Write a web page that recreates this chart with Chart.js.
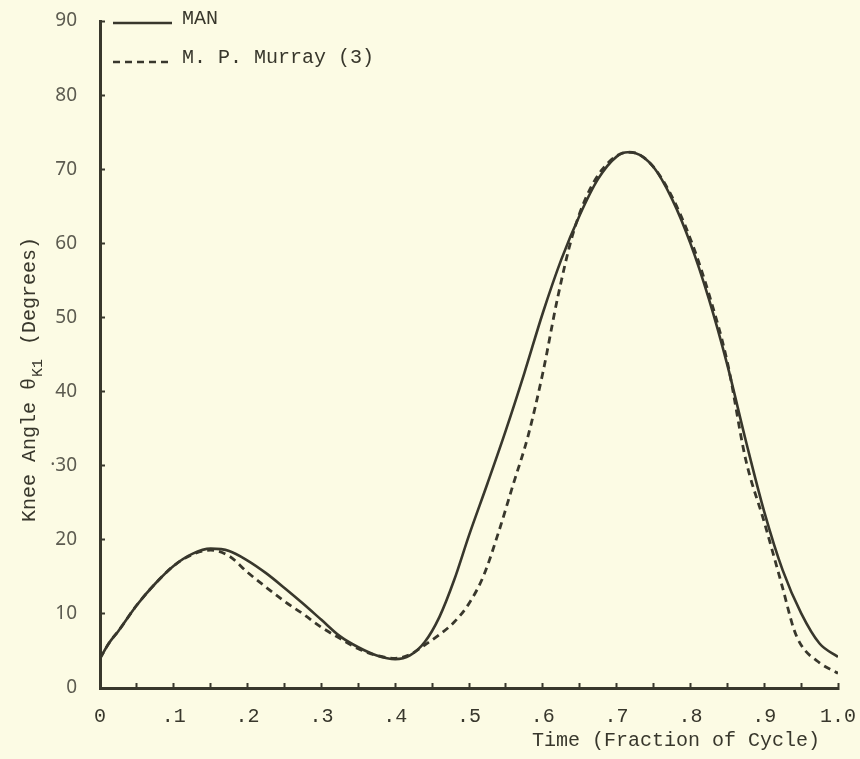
<!DOCTYPE html>
<html>
<head>
<meta charset="utf-8">
<script src="https://cdn.jsdelivr.net/npm/chart.js@4.4.1/dist/chart.umd.min.js"></script>
<style>
    html, body { margin: 0; padding: 0; background: #fcfbe4; }
    #contenedor { width: 860px; height: 759px; position: relative; }
</style>
</head>
<body>
<div id="contenedor"><canvas id="graficoRodilla"></canvas></div>
<script>
/**
 * Ángulo de rodilla durante el ciclo de marcha
 */

// Datos
const tiempos = [0, 0.0125, 0.025, 0.05, 0.075, 0.1, 0.125, 0.15, 0.175, 0.2,
    0.225, 0.25, 0.275, 0.3, 0.325, 0.35, 0.375, 0.4, 0.42, 0.44,
    0.46, 0.48, 0.5, 0.525, 0.55, 0.575, 0.6, 0.625, 0.65, 0.675,
    0.7, 0.715, 0.725, 0.75, 0.775, 0.8, 0.825, 0.85, 0.875, 0.9,
    0.925, 0.95, 0.975, 1.0];
const anguloMan = [4.0, 6.1, 7.7, 11.2, 14.1, 16.5, 18.1, 18.8, 18.5, 17.2,
    15.5, 13.5, 11.4, 9.2, 7.0, 5.5, 4.4, 3.9, 4.4, 6.2,
    9.6, 14.6, 20.6, 27.6, 34.8, 42.5, 50.6, 57.8, 63.8, 68.7,
    71.7, 72.3, 72.2, 70.3, 66.0, 60.0, 52.5, 43.6, 33.4, 23.8,
    15.9, 10.1, 6.0, 4.2];

const tiemposMurray = [0, 0.0125, 0.025, 0.05, 0.075, 0.1, 0.125, 0.15, 0.175, 0.2,
    0.225, 0.25, 0.275, 0.3, 0.325, 0.35, 0.375, 0.4, 0.42, 0.44,
    0.46, 0.48, 0.5, 0.52, 0.54, 0.56, 0.58, 0.6, 0.62, 0.64,
    0.66, 0.68, 0.7, 0.715, 0.725, 0.75, 0.775, 0.8, 0.825, 0.85,
    0.875, 0.9, 0.925, 0.94, 0.95, 0.975, 1.0];
const anguloMurray = [4.0, 6.1, 7.7, 11.2, 14.1, 16.5, 18.0, 18.6, 17.8, 15.6,
    13.6, 11.7, 10.0, 8.2, 6.7, 5.3, 4.4, 4.0, 4.5, 5.8,
    7.2, 8.9, 11.4, 15.2, 21.0, 27.5, 34.0, 42.5, 52.6, 61.0,
    66.5, 69.9, 71.8, 72.3, 72.2, 70.3, 66.3, 60.6, 53.2, 44.0,
    30.8, 22.4, 13.5, 8.0, 5.8, 3.4, 2.0];

const xTickLabels = ['0', '.1', '.2', '.3', '.4', '.5', '.6', '.7', '.8', '.9', '1.0'];
const yTickLabels = ['0', '10', '20', '·30', '40', '50', '60', '70', '80', '90'];

const COLORES = {
    tinta: '#38372c',
    gris: '#5c5b50',
    fondo: '#fcfbe4'
};

const FUENTE_MAQUINA = '"Liberation Mono", "DejaVu Sans Mono", monospace';

function aPuntos(xs, ys) {
    return xs.map(function(x, i) { return { x: x, y: ys[i] }; });
}

// Leyenda dibujada a mano dentro del área, arriba a la izquierda
const leyendaPlugin = {
    id: 'leyendaManual',
    afterDraw(chart) {
        const ctx = chart.ctx;
        const area = chart.chartArea;
        ctx.save();
        chart.data.datasets.forEach(function(ds, i) {
            const y = area.top + 2 + i * 39;
            ctx.strokeStyle = ds.borderColor;
            ctx.lineWidth = 2.5;
            ctx.setLineDash(ds.borderDash || []);
            ctx.beginPath();
            ctx.moveTo(area.left + 13, y);
            ctx.lineTo(area.left + 72, y);
            ctx.stroke();
            ctx.setLineDash([]);
            ctx.fillStyle = COLORES.tinta;
            ctx.font = '20px ' + FUENTE_MAQUINA;
            ctx.textBaseline = 'middle';
            ctx.textAlign = 'left';
            ctx.fillText(ds.label, area.left + 82, y - 4);
        });
        ctx.restore();
    }
};

// Títulos de los ejes (el de Y lleva subíndice K1)
const titulosPlugin = {
    id: 'titulosEjes',
    afterDraw(chart) {
        const ctx = chart.ctx;
        const area = chart.chartArea;
        ctx.save();
        ctx.fillStyle = COLORES.tinta;
        ctx.textBaseline = 'middle';
        ctx.font = '20px ' + FUENTE_MAQUINA;

        // eje X
        ctx.textAlign = 'right';
        ctx.fillText('Time (Fraction of Cycle)', area.right - 18, 741);

        // eje Y
        ctx.translate(30, 522);
        ctx.rotate(-Math.PI / 2);
        ctx.textAlign = 'left';
        const parte1 = 'Knee Angle θ';
        ctx.fillText(parte1, 0, 0);
        let x = ctx.measureText(parte1).width + 1;
        ctx.font = '15px ' + FUENTE_MAQUINA;
        ctx.fillText('K1', x, 8);
        x += ctx.measureText('K1').width + 14;
        ctx.font = '20px ' + FUENTE_MAQUINA;
        ctx.fillText('(Degrees)', x, 0);
        ctx.restore();
    }
};

function initGraficoRodilla(canvasId) {
    const ctx = document.getElementById(canvasId);
    if (!ctx) return;

    new Chart(ctx, {
        type: 'line',
        data: {
            datasets: [{
                label: 'MAN',
                data: aPuntos(tiempos, anguloMan),
                borderColor: COLORES.tinta,
                borderWidth: 2.6,
                pointRadius: 0,
                fill: false,
                cubicInterpolationMode: 'monotone'
            }, {
                label: 'M. P. Murray (3)',
                data: aPuntos(tiemposMurray, anguloMurray),
                borderColor: COLORES.tinta,
                borderWidth: 2.8,
                borderDash: [7, 5],
                pointRadius: 0,
                fill: false,
                cubicInterpolationMode: 'monotone'
            }]
        },
        options: {
            responsive: true,
            maintainAspectRatio: false,
            animation: false,
            layout: { padding: { top: 21, right: 22, left: 0, bottom: 0 } },
            plugins: {
                legend: { display: false },
                tooltip: { enabled: false }
            },
            scales: {
                x: {
                    type: 'linear',
                    min: 0,
                    max: 1,
                    afterFit: function(scale) {
                        scale.height = 71;
                        scale.paddingLeft = 0;
                        scale.paddingRight = 0;
                    },
                    ticks: {
                        stepSize: 0.05,
                        autoSkip: false,
                        maxRotation: 0,
                        padding: 22,
                        color: COLORES.tinta,
                        font: { family: FUENTE_MAQUINA, size: 20 },
                        callback: function(value, index) {
                            return index % 2 === 0 ? xTickLabels[index / 2] : '';
                        }
                    },
                    grid: {
                        drawOnChartArea: false,
                        tickLength: -5,
                        tickWidth: 2,
                        tickColor: COLORES.tinta
                    },
                    border: { color: COLORES.tinta, width: 3 }
                },
                y: {
                    min: 0,
                    max: 90,
                    afterFit: function(scale) {
                        scale.width = 100;
                        scale.paddingTop = 0;
                        scale.paddingBottom = 0;
                    },
                    ticks: {
                        stepSize: 10,
                        padding: 28,
                        color: COLORES.gris,
                        font: { family: '"Noto Sans", sans-serif', size: 19 },
                        callback: function(value, index) {
                            return yTickLabels[index];
                        }
                    },
                    grid: {
                        drawOnChartArea: false,
                        tickLength: -5,
                        tickWidth: 2,
                        tickColor: COLORES.tinta
                    },
                    border: { color: COLORES.tinta, width: 3 }
                }
            }
        },
        plugins: [leyendaPlugin, titulosPlugin]
    });
}

document.addEventListener('DOMContentLoaded', function() {
    initGraficoRodilla('graficoRodilla');
});
</script>
</body>
</html>
